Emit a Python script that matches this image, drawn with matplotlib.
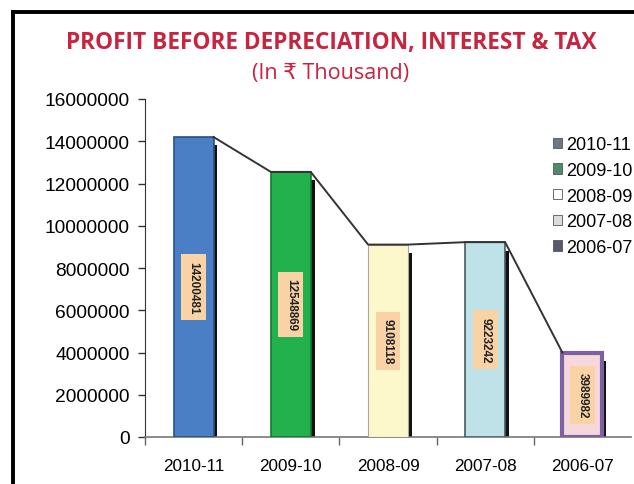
import matplotlib
matplotlib.use('Agg')
import matplotlib.pyplot as plt
from matplotlib.lines import Line2D
from matplotlib.patches import Patch

# PBDIT by financial year (Rs thousand)
years = ['2010-11', '2009-10', '2008-09', '2007-08', '2006-07']
pbdit = [14200481, 12548869, 9108118, 9223242, 3989982]

bar_colors = ['#4a7fc6', '#22b14c', '#fdf7cc', '#bfe2e8', '#f6d8dc']
edge_colors = ['#2a4f86', '#137a30', '#a8a8a0', '#4a5a60', '#7d5fa3']
edge_widths = [1.2, 1.2, 0.8, 1.2, 3.0]
legend_colors = ['#6b7784', '#4f8a6c', '#ffffff', '#dcdcdc', '#565a70']

yticks = [0, 2000000, 4000000, 6000000, 8000000, 10000000, 12000000, 14000000, 16000000]

TICK_FONT = ['Liberation Sans', 'DejaVu Sans']
TITLE_FONT = ['Open Sans', 'DejaVu Sans']

fig = plt.figure(figsize=(6.34, 4.85), dpi=100)
fig.patch.set_facecolor('white')

# outer frame (runs off the right and bottom edges)
fig.add_artist(Line2D([13 / 634, 13 / 634], [0, 1 - 13 / 485], color='black', linewidth=2.8,
                      transform=fig.transFigure))
fig.add_artist(Line2D([13 / 634, 1], [1 - 13 / 485, 1 - 13 / 485], color='black', linewidth=2.8,
                      transform=fig.transFigure))

fig.text(0.522, 1 - 43 / 485, 'PROFIT BEFORE DEPRECIATION, INTEREST & TAX', ha='center',
         va='center', color='#c8233f', fontsize=16.3, fontweight='bold', family=TITLE_FONT)
fig.text(0.522, 1 - 73 / 485, '(In \u20b9 Thousand)', ha='center', va='center',
         color='#c8233f', fontsize=15.5, family=TITLE_FONT)

ax = fig.add_axes([145 / 634, 47 / 485, 486 / 634, 338 / 485])

x = list(range(len(years)))
w = 0.41
sh = 0.045

# dark right-hand shadow behind each column
ax.bar([i + w / 2 + sh / 2 - 0.005 for i in x], [v - 400000 for v in pbdit], width=sh,
       color='#111111', zorder=2)
ax.bar(x, pbdit, width=w, color=bar_colors, edgecolor=edge_colors, linewidth=edge_widths,
       zorder=3)

# line joining the column tops
lx, ly = [], []
for i, v in zip(x, pbdit):
    lx += [i - w / 2, i + w / 2]
    ly += [v, v]
ax.plot(lx[1:-1], ly[1:-1], color='#333333', linewidth=1.4, zorder=4)

for i, v in zip(x, pbdit):
    ax.text(i, v / 2, str(v), rotation=270, ha='center', va='center', fontsize=8.5,
            fontweight='bold', color='#222222', family=TICK_FONT, zorder=5,
            bbox=dict(boxstyle='square,pad=0.55', facecolor='#f9d3a6', edgecolor='none'))

ax.set_xlim(-0.5, 4.5)
ax.set_ylim(0, 16000000)
ax.set_yticks(yticks)
ax.set_yticklabels([str(t) for t in yticks], family=TICK_FONT, fontsize=13.8)
ax.set_xticks(x)
ax.set_xticklabels(years, family=TICK_FONT, fontsize=12.3)
ax.tick_params(axis='x', length=0, pad=15)
ax.tick_params(axis='y', length=5, width=1, color='#333333', pad=6)

# category separators on the x axis
ax.set_xticks([i - 0.5 for i in x], minor=True)
ax.tick_params(axis='x', which='minor', length=6, width=1, color='#666666')

for s in ['top', 'right']:
    ax.spines[s].set_visible(False)
ax.spines['left'].set_color('#333333')
ax.spines['bottom'].set_color('#777777')
ax.spines['bottom'].set_linewidth(1.2)

handles = [Patch(facecolor=c, edgecolor='#555555', linewidth=0.6) for c in legend_colors]
fig.legend(handles, years, loc='upper left', bbox_to_anchor=(537 / 634, 1 - 121 / 485),
           frameon=False, prop={'family': TICK_FONT, 'size': 13},
           handlelength=0.5, handleheight=0.5, handletextpad=0.2, labelspacing=0.48)

fig.savefig('out.png', dpi=100, facecolor='white')
